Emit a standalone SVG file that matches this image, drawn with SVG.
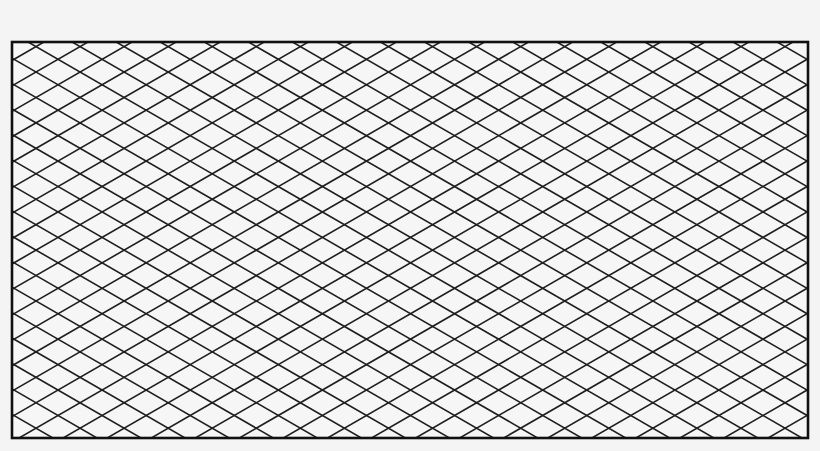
<svg xmlns="http://www.w3.org/2000/svg" width="820" height="451" viewBox="0 0 820 451">
  <style>
    .grid { fill: none; stroke: #1e1e1e; stroke-width: 1.6; }
    .frame { fill: none; stroke: #111; stroke-width: 2.6; }
  </style>
  <defs>
    <clipPath id="clip"><rect x="12" y="42" width="796" height="396"/></clipPath>
  </defs>
  <rect x="0" y="0" width="820" height="451" fill="#f4f4f4"/>
  <rect x="12" y="42" width="796" height="396" fill="#f6f6f6"/>
  <g id="grid" clip-path="url(#clip)">
    <path class="grid" d="M12 -399.74L808 59.86 M12 -374.30L808 85.30 M12 -348.86L808 110.74 M12 -323.42L808 136.18 M12 -297.98L808 161.62 M12 -272.54L808 187.06 M12 -247.10L808 212.50 M12 -221.66L808 237.94 M12 -196.22L808 263.38 M12 -170.78L808 288.82 M12 -145.34L808 314.26 M12 -119.90L808 339.70 M12 -94.46L808 365.14 M12 -69.02L808 390.58 M12 -43.58L808 416.02 M12 -18.14L808 441.46 M12 7.30L808 466.90 M12 32.74L808 492.34 M12 58.18L808 517.78 M12 83.62L808 543.22 M12 109.06L808 568.66 M12 134.50L808 594.10 M12 159.94L808 619.54 M12 185.38L808 644.98 M12 210.82L808 670.42 M12 236.26L808 695.86 M12 261.70L808 721.30 M12 287.14L808 746.74 M12 312.58L808 772.18 M12 338.02L808 797.62 M12 363.46L808 823.06 M12 388.90L808 848.50 M12 414.34L808 873.94"/>
    <path class="grid" d="M12 60.46L808 -399.14 M12 85.90L808 -373.70 M12 111.34L808 -348.26 M12 136.78L808 -322.82 M12 162.22L808 -297.38 M12 187.66L808 -271.94 M12 213.10L808 -246.50 M12 238.54L808 -221.06 M12 263.98L808 -195.62 M12 289.42L808 -170.18 M12 314.86L808 -144.74 M12 340.30L808 -119.30 M12 365.74L808 -93.86 M12 391.18L808 -68.42 M12 416.62L808 -42.98 M12 442.06L808 -17.54 M12 467.50L808 7.90 M12 492.94L808 33.34 M12 518.38L808 58.78 M12 543.82L808 84.22 M12 569.26L808 109.66 M12 594.70L808 135.10 M12 620.14L808 160.54 M12 645.58L808 185.98 M12 671.02L808 211.42 M12 696.46L808 236.86 M12 721.90L808 262.30 M12 747.34L808 287.74 M12 772.78L808 313.18 M12 798.22L808 338.62 M12 823.66L808 364.06 M12 849.10L808 389.50 M12 874.54L808 414.94"/>
  </g>
  <rect id="frame" class="frame" x="12" y="42" width="796" height="396"/>
</svg>
